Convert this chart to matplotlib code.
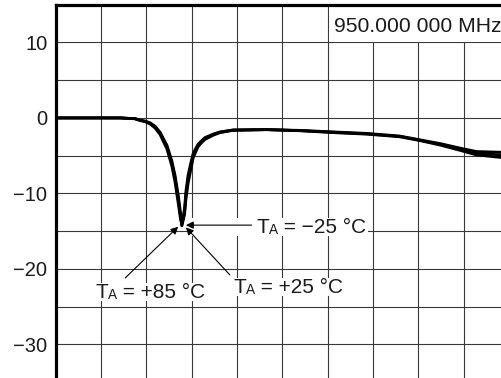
"""Return loss vs frequency over temperature (cropped analyzer trace)."""

import matplotlib.pyplot as plt
from matplotlib.patches import Rectangle
from matplotlib.transforms import Bbox

plt.rcParams["font.family"] = ["Liberation Sans", "DejaVu Sans"]

# trace readings, x in screen divisions, y in dB
divisions = [0.0, 0.97, 1.42, 1.75, 1.86, 1.97, 2.08, 2.19, 2.30, 2.37, 2.45,
             2.56, 2.63, 2.70, 2.75, 2.78, 2.84, 2.87, 2.92, 2.98, 3.03, 3.09,
             3.14, 3.22, 3.29, 3.47, 3.62, 3.91, 4.65, 5.39, 6.12, 6.86, 7.59,
             8.03, 8.48, 8.92, 9.28, 9.84]
trace_p25 = [0, 0, 0, -0.1, -0.3, -0.45, -0.7, -1.2, -2.0, -2.9, -3.8,
             -6.0, -8.0, -10.7, -12.9, -14.2, -12.4, -10.2, -8.0, -6.3, -4.95, -4.2,
             -3.6, -3.1, -2.7, -2.2, -1.9, -1.6, -1.55, -1.68, -1.9, -2.1, -2.45,
             -2.95, -3.5, -4.15, -4.7, -4.9]
trace_m25 = [0, 0, 0, -0.1, -0.3, -0.42, -0.65, -1.1, -1.9, -2.7, -3.6,
             -5.7, -7.6, -10.2, -12.5, -14.3, -12.8, -10.8, -8.6, -6.8, -5.3, -4.45,
             -3.8, -3.25, -2.85, -2.3, -1.95, -1.65, -1.55, -1.65, -1.85, -2.05, -2.4,
             -2.9, -3.4, -4.0, -4.45, -4.55]
trace_p85 = [0, 0, 0, -0.12, -0.35, -0.5, -0.8, -1.35, -2.2, -3.1, -4.1,
             -6.4, -8.5, -11.3, -13.4, -14.1, -12.0, -9.7, -7.5, -5.9, -4.7, -4.0,
             -3.45, -3.0, -2.6, -2.15, -1.85, -1.6, -1.55, -1.7, -1.95, -2.15, -2.5,
             -3.0, -3.6, -4.3, -4.9, -5.25]

y_labels = [10, 0, -10, -20, -30]
center_freq = "950.000 000 MHz"

ink = "#1a1a1a"

fig = plt.figure(figsize=(5.02, 3.78), dpi=100)
ax = fig.add_axes([0.1112, -0.011, 0.903, 0.9986])
ax.set_xlim(0, 10)
ax.set_ylim(-35, 15)

for trace in (trace_m25, trace_p25, trace_p85):
    ax.plot(divisions, trace, color="black", lw=2.0, zorder=3,
            solid_capstyle="butt", solid_joinstyle="round")

ax.set_xticks(range(0, 11))
ax.set_yticks(y_labels)
ax.set_yticks(range(-35, 16, 5), minor=True)
ax.set_xticklabels([])
ax.tick_params(which="both", length=0)
ax.tick_params(axis="y", labelsize=14.5, pad=6, labelcolor=ink)
ax.grid(True, which="both", color="#383838", lw=0.8, zorder=1)
ax.set_axisbelow(True)

for side in ("right", "bottom"):
    ax.spines[side].set_visible(False)
for side in ("left", "top"):
    ax.spines[side].set_linewidth(2.3)
    ax.spines[side].set_color("black")

# frequency readout box
ax.add_patch(Rectangle((6.03, 10.1), 4.0, 5.0, facecolor="white",
                       edgecolor="none", zorder=2, clip_on=False))
ax.text(6.14, 11.34, center_freq, fontsize=15.2, color=ink, zorder=4)


def ta_label(x, y, rest):
    t = ax.text(x, y, "T", fontsize=15, color=ink, va="baseline", zorder=5)
    a = ax.annotate("A", xy=(1, 0), xycoords=t, fontsize=9.8, color=ink,
                    va="bottom", zorder=5)
    r = ax.annotate(rest, xy=(1, 0), xycoords=a, fontsize=15, color=ink,
                    va="bottom", zorder=5)
    return [t, a, r]


def pointer(tail, head):
    ax.annotate("", xy=head, xytext=tail, zorder=6,
                arrowprops=dict(arrowstyle="-|>", color="black", lw=0.8,
                                mutation_scale=11, shrinkA=0, shrinkB=0))


labels = [
    ta_label(4.42, -15.2, " = \u221225 \u00b0C"),
    ta_label(0.865, -23.9, " = +85 \u00b0C"),
    ta_label(3.92, -23.15, " = +25 \u00b0C"),
]

pointer((4.32, -14.2), (2.87, -14.2))
pointer((1.53, -21.2), (2.70, -14.4))
pointer((3.84, -20.8), (2.87, -14.5))

# white masks behind the labels so the grid stops at the text
fig.canvas.draw()
renderer = fig.canvas.get_renderer()
for i, group in enumerate(labels):
    box = Bbox.union([p.get_window_extent(renderer) for p in group])
    x0, x1 = box.x0 - 2, box.x1 + 2
    if i == 0:
        # the -25 label's mask runs back to the arrow head
        x0 = ax.transData.transform((2.9, 0))[0]
    ax.add_patch(Rectangle((x0, box.y0 + 1), x1 - x0, box.height - 1,
                           facecolor="white", edgecolor="none",
                           transform=None, clip_on=False, zorder=4))

fig.savefig("out.png", dpi=100, facecolor="white")
